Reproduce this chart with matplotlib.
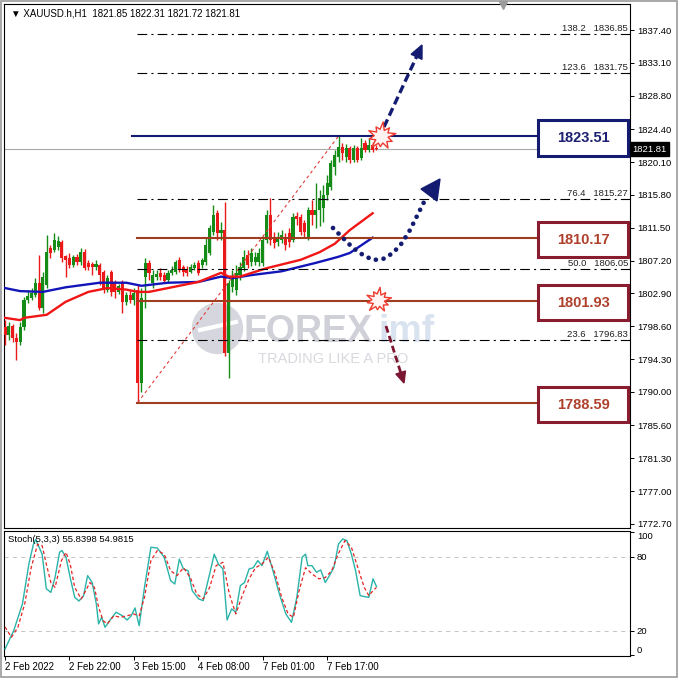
import matplotlib
matplotlib.use("Agg")
import matplotlib.pyplot as plt
import matplotlib.transforms as mtransforms
from matplotlib.patches import Rectangle, Polygon
from matplotlib.path import Path
import numpy as np

plt.rcParams["font.family"] = ["Liberation Sans", "DejaVu Sans"]
plt.rcParams["lines.scale_dashes"] = False

# ---------------------------------------------------------------- data
chart_title = "\u25bc XAUUSD.h,H1  1821.85 1822.31 1821.72 1821.81"

bar_open = [
    1798.5, 1797.5, 1798.6, 1797.1, 1796.5, 1798.5, 1802.0, 1802.3, 1802.7, 1804.3,
    1801.0, 1804.0, 1808.9, 1808.6, 1809.0, 1809.6, 1807.8, 1807.5, 1806.6, 1807.7,
    1807.0, 1808.3, 1806.9, 1806.8, 1806.4, 1806.6, 1805.7, 1803.4, 1805.7, 1804.4,
    1803.1, 1804.3, 1801.8, 1802.7, 1802.0, 1803.4, 1791.2, 1805.1, 1806.9, 1804.3,
    1805.1, 1805.6, 1805.3, 1804.7, 1805.6, 1805.7, 1807.3, 1806.4, 1806.0, 1805.7,
    1806.2, 1806.9, 1806.6, 1807.0, 1808.2, 1810.9, 1813.4, 1810.8, 1811.2, 1795.1,
    1803.7, 1803.4, 1805.3, 1806.2, 1807.9, 1807.0, 1807.0, 1807.0, 1806.9, 1809.9,
    1813.2, 1810.2, 1809.6, 1809.9, 1810.3, 1810.8, 1809.9, 1813.0, 1812.9, 1812.1,
    1810.3, 1813.8, 1813.2, 1813.8, 1814.1, 1815.8, 1816.8, 1819.5, 1820.8, 1822.1,
    1820.8, 1821.9, 1820.4, 1821.9, 1820.6, 1822.6, 1821.7, 1822.3, 1821.85,
]
bar_high = [
    1799.4, 1799.2, 1798.9, 1797.7, 1799.2, 1802.4, 1803.4, 1803.6, 1804.9, 1807.9,
    1805.7, 1810.6, 1809.2, 1810.8, 1810.4, 1809.9, 1807.9, 1808.2, 1807.9, 1808.1,
    1808.9, 1808.7, 1807.3, 1807.0, 1807.3, 1806.9, 1806.0, 1805.3, 1806.0, 1804.7,
    1804.1, 1804.7, 1803.1, 1803.4, 1803.6, 1804.0, 1803.6, 1807.5, 1807.3, 1806.0,
    1806.0, 1806.2, 1805.7, 1806.0, 1806.5, 1807.3, 1807.7, 1806.6, 1806.5, 1806.8,
    1807.0, 1807.3, 1807.5, 1810.2, 1811.9, 1814.5, 1813.8, 1812.3, 1814.9, 1804.7,
    1806.0, 1806.6, 1807.0, 1808.6, 1808.6, 1808.9, 1808.3, 1808.9, 1810.4, 1813.8,
    1815.4, 1810.9, 1810.9, 1811.2, 1810.8, 1811.5, 1813.4, 1813.6, 1813.3, 1812.5,
    1814.2, 1815.1, 1817.4, 1816.4, 1817.1, 1818.4, 1820.4, 1821.7, 1823.51, 1822.6,
    1822.5, 1822.2, 1822.3, 1822.2, 1823.3, 1823.0, 1823.3, 1822.7, 1822.31,
]
bar_low = [
    1796.1, 1796.8, 1796.5, 1794.2, 1796.1, 1798.1, 1801.6, 1802.0, 1802.4, 1800.7,
    1800.3, 1803.6, 1807.5, 1808.3, 1808.6, 1807.0, 1805.1, 1806.2, 1806.4, 1806.6,
    1806.6, 1806.0, 1806.0, 1805.3, 1806.0, 1804.0, 1803.0, 1803.1, 1802.6, 1802.3,
    1802.8, 1800.3, 1801.4, 1801.6, 1801.4, 1788.59, 1790.0, 1801.0, 1804.7, 1803.6,
    1804.7, 1804.7, 1804.3, 1804.3, 1805.3, 1805.4, 1805.7, 1805.2, 1805.2, 1805.6,
    1806.0, 1805.3, 1806.2, 1806.6, 1807.9, 1810.6, 1809.9, 1809.9, 1794.7, 1791.8,
    1803.1, 1802.7, 1804.7, 1805.8, 1806.2, 1806.5, 1806.6, 1806.5, 1806.5, 1809.5,
    1809.2, 1808.9, 1809.1, 1809.5, 1808.6, 1809.0, 1809.6, 1811.9, 1810.6, 1810.3,
    1809.9, 1811.9, 1811.5, 1811.7, 1812.3, 1815.1, 1816.4, 1818.4, 1820.1, 1820.4,
    1820.1, 1820.0, 1820.1, 1820.1, 1820.4, 1821.4, 1821.4, 1821.4, 1821.72,
]
bar_close = [
    1797.5, 1798.6, 1797.1, 1796.5, 1798.5, 1802.0, 1802.6, 1803.0, 1804.3, 1801.0,
    1805.1, 1808.3, 1808.2, 1809.9, 1809.8, 1807.5, 1807.3, 1806.6, 1807.7, 1807.0,
    1808.3, 1806.2, 1806.4, 1806.4, 1806.8, 1805.3, 1803.4, 1804.9, 1803.1, 1803.1,
    1803.9, 1801.8, 1802.7, 1802.0, 1803.0, 1791.2, 1802.3, 1806.9, 1805.6, 1805.3,
    1805.4, 1805.1, 1804.5, 1805.6, 1806.0, 1807.0, 1806.0, 1805.7, 1805.6, 1806.4,
    1806.6, 1805.6, 1807.3, 1809.2, 1811.5, 1813.2, 1810.8, 1811.2, 1795.1, 1804.3,
    1805.1, 1805.6, 1806.4, 1807.7, 1806.6, 1808.2, 1807.7, 1808.2, 1809.9, 1813.2,
    1809.9, 1809.5, 1810.3, 1810.6, 1809.2, 1809.6, 1812.9, 1812.6, 1810.9, 1810.9,
    1813.8, 1813.2, 1813.8, 1815.4, 1815.8, 1817.4, 1820.0, 1821.0, 1822.1, 1821.3,
    1821.9, 1820.4, 1821.9, 1820.4, 1821.9, 1821.7, 1822.3, 1821.7, 1821.81,
]

# moving averages at a few bars
fast_ma_bar = [0, 4, 5, 11, 16, 22, 27, 32, 35, 38, 43, 51, 57, 59, 62, 69, 78, 83, 87, 91, 97]
fast_ma_val = [1799.7, 1799.4, 1799.7, 1800.1, 1801.8, 1803.1, 1803.6, 1803.4, 1803.1, 1803.1,
               1803.6, 1804.4, 1805.6, 1805.1, 1805.1, 1806.2, 1807.3, 1808.3, 1809.4, 1811.2,
               1813.4]
slow_ma_bar = [0, 4, 10, 16, 25, 32, 36, 43, 51, 57, 60, 65, 73, 82, 88, 91, 97]
slow_ma_val = [1803.6, 1803.2, 1803.1, 1803.7, 1804.3, 1804.3, 1803.9, 1804.3, 1804.4, 1805.1,
               1804.9, 1805.3, 1805.8, 1806.9, 1807.7, 1808.2, 1810.2]

price_ticks = [1837.40, 1833.10, 1828.80, 1824.40, 1820.10, 1815.80, 1811.50, 1807.20,
               1802.90, 1798.60, 1794.30, 1790.00, 1785.60, 1781.30, 1777.00, 1772.70]
time_ticks = [0, 17, 34, 51, 68, 85]
time_labels = ["2 Feb 2022", "2 Feb 22:00", "3 Feb 15:00", "4 Feb 08:00",
               "7 Feb 01:00", "7 Feb 17:00"]

fib_low, fib_high = 1788.59, 1823.51
fib_low_bar, fib_high_bar = 35, 88
fib_ratio = ["138.2", "123.6", "76.4", "50.0", "23.6"]
fib_price = [1836.85, 1831.75, 1815.27, 1806.05, 1796.83]

level_price = [1823.51, 1810.17, 1801.93, 1788.59]
level_kind = ["resistance", "support", "support", "support"]
last_price = 1821.81

stoch_title = "Stoch(5,3,3) 55.8398 54.9815"
stoch_main_bar = [0, 2.3, 4.6, 6.3, 7.5, 8.1, 9.8, 10.9, 12.1, 13.2, 14.4, 15.0, 16.1, 17.2,
                  18.4, 19.5, 20.7, 21.8, 23.0, 24.1, 24.7, 25.5, 26.4, 27.6, 29.3, 31.0,
                  32.2, 33.3, 34.3, 35.4, 36.8, 38.5, 40.2, 42.0, 43.7, 44.8, 46.0, 47.1,
                  48.3, 49.4, 51.1, 52.3, 54.0, 55.2, 56.3, 57.5, 58.6, 59.8, 60.9, 62.1,
                  63.2, 64.4, 65.5, 66.7, 67.8, 69.2, 70.7, 72.4, 74.1, 75.6, 77.0, 78.4,
                  79.3, 79.9, 81.0, 82.2, 83.3, 84.5, 85.6, 86.8, 88.0, 89.1, 90.2, 91.4,
                  92.5, 93.7, 94.8, 96.0, 97.1, 98.0]
stoch_main_val = [5, 20, 41.6, 74, 90, 94, 82, 54, 51, 63, 83.5, 85, 79.5, 63,
                  47, 44, 48, 64.6, 59, 41.6, 25.4, 30.8, 22.7, 28, 34.9, 32,
                  28.6, 32, 38.4, 24, 55, 87.6, 87, 79.5, 60.5, 57.8, 78, 70,
                  68.6, 52.4, 45.7, 44.3, 66, 82, 74, 70, 28.6, 37.6, 34.9, 56.5,
                  59, 70, 71, 76.8, 72.7, 84.3, 68.6, 49.7, 33.5, 26.7, 47, 79.5,
                  82, 72.7, 72.7, 67.3, 69.2, 59, 64.6, 71.4, 90.3, 94.3, 93, 82,
                  68.6, 48.4, 47.6, 47, 62, 55.84]
stoch_sig_bar = [0, 1.7, 3.4, 5.2, 6.9, 8.6, 9.8, 10.9, 12.1, 13.2, 14.9, 16.1, 17.2, 18.4,
                 20.1, 21.3, 22.4, 23.6, 24.7, 25.9, 27.0, 28.7, 30.5, 32.2, 33.9, 35.4,
                 36.8, 38.5, 40.2, 42.0, 43.7, 45.4, 47.1, 48.9, 50.6, 52.3, 54.0, 55.7,
                 57.5, 59.2, 60.9, 62.6, 64.4, 66.1, 67.8, 69.5, 71.3, 73.0, 74.7, 76.1,
                 77.6, 79.3, 81.0, 82.8, 84.5, 86.2, 87.9, 89.7, 91.4, 93.1, 94.8, 96.0,
                 97.1, 98.0]
stoch_sig_val = [23, 14.6, 22.7, 41.6, 71, 90, 89, 74, 59, 55, 76.8, 83.5, 74, 55,
                 45.7, 52.4, 59, 55, 39, 28, 25.4, 32, 30.8, 32, 33.5, 32,
                 47, 76.8, 85, 82, 68.6, 64.6, 71, 63, 49.7, 45.7, 55, 72.7,
                 75.4, 49.7, 33.5, 48.4, 62, 71, 74, 79.5, 66, 47, 33.5, 30.8,
                 52.4, 71, 66, 62, 63, 68.6, 82, 93, 87.6, 71, 55, 48.4,
                 52.4, 54.98]

# ---------------------------------------------------------------- layout
W = 678.0
NAVY = "#141c72"
MAROON = "#8a1c30"
BROWN = "#9e3e1e"
UP = "#168c18"
DOWN = "#ea1a1a"


def fig_rect(x0, y0, x1, y1):
    return [x0 / W, 1 - y1 / W, (x1 - x0) / W, (y1 - y0) / W]


def ref(x, y):
    """reference-picture pixel -> main axes fraction"""
    return ((x - 4) / 626.0, 1 - (y - 4) / 524.0)


def head(tip, tail, length, half_w):
    d = np.array(tip, float) - np.array(tail, float)
    u = d / np.hypot(*d)
    n = np.array([-u[1], u[0]])
    base = np.array(tip, float) - u * length
    return [ref(*tip), ref(*(base + n * half_w)), ref(*(base - n * half_w))]


fig = plt.figure(figsize=(6.78, 6.78), dpi=100, facecolor="white")
ax = fig.add_axes(fig_rect(4, 4, 630, 528))
sx = fig.add_axes(fig_rect(4, 531, 630, 656))
xlim = ((4 - 5) / 3.79, (630 - 5) / 3.79)

# ---------------------------------------------------------------- main panel
o = np.array(bar_open)
h = np.array(bar_high)
l = np.array(bar_low)
c = np.array(bar_close)
x = np.arange(len(c))
cols = np.where(c >= o, UP, DOWN)
ax.vlines(x, l, h, colors=cols, lw=1.0, zorder=3)
ax.bar(x, np.maximum(np.abs(c - o), 0.15), bottom=np.minimum(o, c), width=0.82,
       color=cols, lw=0, zorder=3)

ax.plot(slow_ma_bar, slow_ma_val, color="#1216b8", lw=1.7, zorder=4)
ax.plot(fast_ma_bar, fast_ma_val, color="#f01616", lw=1.7, zorder=4)

# fibonacci retracement
ax.plot([fib_low_bar, fib_high_bar], [fib_low, fib_high], color="#e23a3a", lw=0.8,
        ls=(0, (2.2, 2.2)), zorder=4)
blend = mtransforms.blended_transform_factory(ax.transAxes, ax.transData)
for r, p in zip(fib_ratio, fib_price):
    ax.plot([fib_low_bar - 0.2, xlim[1]], [p, p], color="black", lw=0.8,
            ls=(0, (7, 3, 1.5, 3)), zorder=4)
    ax.text(ref(628, 0)[0], p + 0.15, f"{r}   {p:.2f}", transform=blend, ha="right",
            va="bottom", fontsize=6.8, color="#202020", zorder=5)

# horizontal levels + value boxes
box_left_bar = (538 - 5) / 3.79
for p, kind in zip(level_price, level_kind):
    colr = NAVY if kind == "resistance" else BROWN
    start = fib_low_bar - 1.5 if kind == "resistance" else fib_low_bar - 0.2
    ax.plot([start, box_left_bar], [p, p], color=colr, lw=1.5, zorder=5)
    edge = NAVY if kind == "resistance" else MAROON
    txt = "#1c2070" if kind == "resistance" else "#ae402c"
    ax.add_patch(Rectangle((ref(538, 0)[0], p - 2.55), ref(628, 0)[0] - ref(538, 0)[0], 4.6,
                           transform=blend, facecolor="white", edgecolor=edge, lw=2.2,
                           zorder=6))
    ax.text(ref(583, 0)[0], p - 0.25, f"{p:.2f}", transform=blend, ha="center",
            va="center", fontsize=10.5, fontweight="bold", color=txt, zorder=7)

# current price
ax.axhline(last_price, color="#a8a8a8", lw=0.8, zorder=2)
ax.text(1.004, last_price, f"{last_price:.2f}", transform=blend, ha="left", va="center",
        fontsize=6.8, color="white", zorder=8, clip_on=False,
        bbox=dict(boxstyle="square,pad=0.22", fc="black", ec="black"))

# watermark
ax.plot(*ref(217, 328), transform=ax.transAxes, marker="o", ms=37, mfc="#d6d7de",
        mec="none", zorder=1)
ax.plot([ref(200, 330)[0], ref(236, 322)[0]], [ref(200, 330)[1], ref(236, 322)[1]],
        transform=ax.transAxes, color="white", lw=3, zorder=1)
ax.text(*ref(244, 342), "FOREX", transform=ax.transAxes, fontsize=27, fontweight="bold",
        color="#cfd0d8", ha="left", va="baseline", zorder=1)
ax.text(*ref(378, 342), "imf", transform=ax.transAxes, fontsize=27, fontweight="bold",
        color="#d9e3f0", ha="left", va="baseline", zorder=1)
ax.text(*ref(258, 363), "TRADING LIKE A PRO", transform=ax.transAxes, fontsize=10.5,
        color="#d8d8de", ha="left", va="baseline", zorder=1)

# drawn scenario arrows
tail, tip = (384, 127), (422, 45)
hd = head(tip, tail, 13, 6)
base = ((hd[1][0] + hd[2][0]) / 2, (hd[1][1] + hd[2][1]) / 2)
a0 = ref(*tail)
ax.plot([a0[0], base[0]], [a0[1], base[1]], transform=ax.transAxes, color=NAVY, lw=2.4,
        ls=(0, (6, 3)), zorder=7)
ax.add_patch(Polygon(hd, closed=True, transform=ax.transAxes, fc=NAVY, ec=NAVY, zorder=7))

tail, tip = (386, 326), (404, 383)
hd = head(tip, tail, 11, 5)
base = ((hd[1][0] + hd[2][0]) / 2, (hd[1][1] + hd[2][1]) / 2)
a0 = ref(*tail)
ax.plot([a0[0], base[0]], [a0[1], base[1]], transform=ax.transAxes, color="#7c1530",
        lw=2.0, ls=(0, (5, 2.5)), zorder=7)
ax.add_patch(Polygon(hd, closed=True, transform=ax.transAxes, fc="#7c1530", ec="#7c1530",
                     zorder=7))

curve_px = [(333, 228), (343, 238), (353, 248), (363, 255), (373, 260), (383, 259),
            (393, 253), (402, 243), (410, 230), (417, 216), (424, 202)]
cx, cy = zip(*[ref(*p) for p in curve_px])
ax.plot(cx, cy, transform=ax.transAxes, color=NAVY, lw=3.4, ls=(0, (0.01, 5.6)),
        dash_capstyle="round", zorder=7)
ax.add_patch(Polygon([ref(440, 179), ref(421, 189), ref(437, 201)], closed=True,
                     transform=ax.transAxes, fc=NAVY, ec=NAVY, zorder=7))

# explosion markers
rad = [1.0, 0.5, 0.8, 0.45, 1.0, 0.5, 0.75, 0.45, 0.95, 0.5,
       0.85, 0.45, 1.0, 0.5, 0.7, 0.45, 0.9, 0.5, 0.8, 0.45]
ang = np.linspace(0, 2 * np.pi, len(rad), endpoint=False) + 0.2
verts = np.column_stack([np.array(rad) * np.cos(ang), np.array(rad) * np.sin(ang)])
burst = Path(np.vstack([verts, verts[:1]]), closed=True)
for px_, py_, ms in [(381, 136, 21), (378, 300, 19)]:
    ax.plot(*ref(px_, py_), transform=ax.transAxes, marker=burst, ms=ms, mfc="#fff4f2",
            mec="#ec3a30", mew=1.0, ls="none", zorder=8)

ax.text(*ref(11, 13), chart_title, transform=ax.transAxes, fontsize=7, color="black",
        ha="left", va="center", zorder=9)
ax.plot(*ref(503, 5), transform=ax.transAxes, marker="v", ms=6, color="#9c9c9c",
        clip_on=False, zorder=9)

ax.set_xlim(*xlim)
ax.set_ylim(1841.33 - 528 / 7.635, 1841.33 - 4 / 7.635)
ax.set_xticks([])
ax.yaxis.tick_right()
ax.set_yticks(price_ticks)
ax.set_yticklabels([f"{t:.2f}" for t in price_ticks])
ax.tick_params(axis="y", labelsize=6.8, length=3, width=0.7, pad=2, colors="black")
for s in ax.spines.values():
    s.set_linewidth(0.8)

# ---------------------------------------------------------------- stochastic panel
for lv in (80, 20):
    sx.axhline(lv, color="#c4c4c4", lw=0.7, ls=(0, (3, 3)), zorder=1)
sx.plot(stoch_main_bar, stoch_main_val, color="#2ab3a8", lw=1.0, zorder=3)
sx.plot(stoch_sig_bar, stoch_sig_val, color="#e42424", lw=0.9, ls=(0, (2.5, 1.8)), zorder=3)
sx.text(0.006, 0.93, stoch_title, transform=sx.transAxes, fontsize=6.8, ha="left",
        va="center", color="black")
sx.set_xlim(*xlim)
sx.set_ylim(-0.6, 100.8)
sx.yaxis.tick_right()
sx.set_yticks([100, 80, 20, 0])
sx.set_yticklabels(["100", "80", "20", "0"])
lbls = sx.get_yticklabels()
lbls[0].set_va("top")
lbls[3].set_va("bottom")
sx.tick_params(axis="y", labelsize=6.8, length=3, width=0.7, pad=2)
sx.set_xticks(time_ticks)
sx.set_xticklabels(time_labels, ha="left")
sx.tick_params(axis="x", labelsize=7, length=3, width=0.7, pad=1.5)
for s in sx.spines.values():
    s.set_linewidth(0.8)

fig.add_artist(Rectangle((0.001, 0.001), 0.998, 0.998, transform=fig.transFigure,
                         fill=False, ec="#9a9a9a", lw=1.2))

fig.savefig("out.png", dpi=100, facecolor="white")
